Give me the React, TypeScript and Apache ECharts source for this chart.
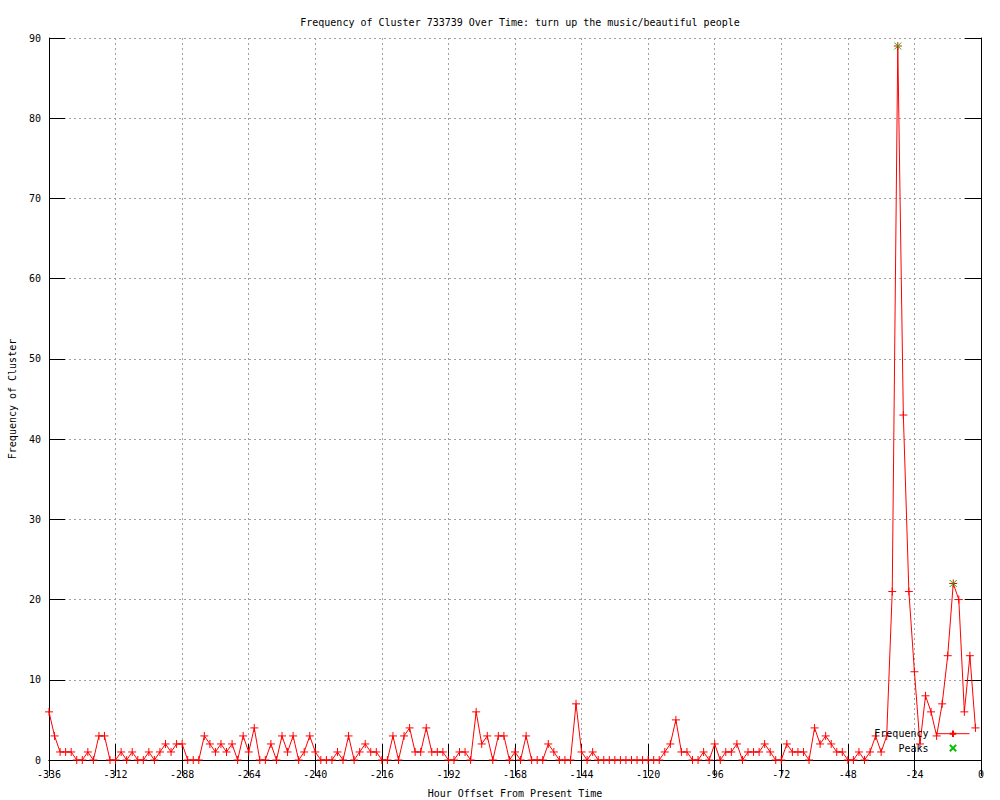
import React, { useEffect, useRef } from "react";
import * as echarts from "echarts";

const TITLE = "Frequency of Cluster 733739 Over Time: turn up the music/beautiful people";
const X_NAME = "Hour Offset From Present Time";
const Y_NAME = "Frequency of Cluster";

// hour offsets -336, -334, ..., -2
const START_HOUR = -336;
const STEP_HOURS = 2;

const frequency: number[] = [
  6, 3, 1, 1, 1, 0, 0, 1, 0, 3, 3, 0, 0, 1, 0, 1, 0, 0, 1, 0, 1, 2, 1, 2, 2, 0, 0, 0,
  3, 2, 1, 2, 1, 2, 0, 3, 1, 4, 0, 0, 2, 0, 3, 1, 3, 0, 1, 3, 1, 0, 0, 0, 1, 0,
  3, 0, 1, 2, 1, 1, 0, 0, 3, 0, 3, 4, 1, 1, 4, 1, 1, 1, 0, 0, 1, 1, 0, 6, 2, 3, 0,
  3, 3, 0, 1, 0, 3, 0, 0, 0, 2, 1, 0, 0, 0, 7, 1, 0, 1,
  0, 0, 0, 0, 0, 0, 0, 0, 0, 0, 0, 0,
  1, 2, 5, 1, 1, 0, 0, 1, 0, 2, 0, 1, 1, 2, 0, 1, 1, 1, 2, 1, 0, 0, 2, 1, 1, 1, 0,
  4, 2, 3, 2, 1, 1, 0, 0, 1, 0, 1, 3, 1, 3, 21, 89, 43, 21, 11, 2, 8, 6, 3, 7, 13,
  22, 20, 6, 13, 4,
];

const peakHours: number[] = [-30, -10];
const peakValues: number[] = [89, 22];

const FONT = "DejaVu Sans Mono";
const PLUS = "path://M0,5L10,5M5,0L5,10";
const CROSS = "path://M0,0L10,10M10,0L0,10";

export default function App() {
  const ref = useRef<HTMLDivElement>(null);

  useEffect(() => {
    if (!ref.current) return;
    const chart = echarts.init(ref.current, undefined, { renderer: "svg" });
    const freqData = frequency.map((v, i) => [START_HOUR + STEP_HOURS * i, v]);
    const peakData = peakHours.map((h, i) => [h, peakValues[i]]);

    const tickStyle = { show: true, inside: true, length: 16, lineStyle: { color: "#000", width: 1 } };
    const gridLine = { show: true, lineStyle: { color: "#a0a0a0", type: [2, 3] as any, width: 1 } };

    chart.setOption({
      animation: false,
      backgroundColor: "#fff",
      textStyle: { fontFamily: FONT },
      title: {
        text: TITLE,
        left: 515,
        top: 12,
        textAlign: "center",
        textStyle: { fontFamily: FONT, fontSize: 10, fontWeight: "normal", color: "#000" },
      },
      legend: {
        orient: "vertical",
        right: 30,
        top: 728,
        align: "right",
        itemWidth: 33,
        itemHeight: 8,
        itemGap: 3,
        padding: 0,
        lineStyle: { width: 1 },
        textStyle: { fontFamily: FONT, fontSize: 10, color: "#000", padding: [0, 3, 0, 0], lineHeight: 10 },
        data: ["Frequency", "Peaks"],
      },
      grid: { left: 49, right: 19, top: 38, bottom: 40, containLabel: false, outerBoundsMode: "none" },
      xAxis: [
        {
          type: "value",
          min: -336,
          max: 0,
          interval: 24,
          name: X_NAME,
          nameLocation: "middle",
          nameGap: 28,
          nameTextStyle: { fontFamily: FONT, fontSize: 10, color: "#000" },
          axisLine: { show: true, onZero: false, lineStyle: { color: "#000" } },
          axisTick: tickStyle,
          axisLabel: { fontFamily: FONT, fontSize: 10, color: "#000", margin: 9 },
          splitLine: gridLine,
        },
        {
          type: "value",
          position: "top",
          min: -336,
          max: 0,
          interval: 24,
          axisLine: { show: true, lineStyle: { color: "#000" } },
          axisTick: tickStyle,
          axisLabel: { show: false },
          splitLine: { show: false },
        },
      ],
      yAxis: [
        {
          type: "value",
          min: 0,
          max: 90,
          interval: 10,
          name: Y_NAME,
          nameLocation: "middle",
          nameGap: 32,
          nameTextStyle: { fontFamily: FONT, fontSize: 10, color: "#000" },
          axisLine: { show: true, onZero: false, lineStyle: { color: "#000" } },
          axisTick: tickStyle,
          axisLabel: { fontFamily: FONT, fontSize: 10, color: "#000", margin: 8 },
          splitLine: gridLine,
        },
        {
          type: "value",
          position: "right",
          min: 0,
          max: 90,
          interval: 10,
          axisLine: { show: true, lineStyle: { color: "#000" } },
          axisTick: tickStyle,
          axisLabel: { show: false },
          splitLine: { show: false },
        },
      ],
      series: [
        {
          name: "Frequency",
          type: "line",
          data: freqData,
          symbol: PLUS,
          symbolSize: 8,
          showAllSymbol: true,
          color: "#ff0000",
          lineStyle: { color: "#ff0000", width: 1 },
          itemStyle: { color: "none", borderColor: "#ff0000", borderWidth: 1 },
          clip: false,
          z: 2,
        },
        {
          name: "Peaks",
          type: "line",
          data: peakData,
          symbol: CROSS,
          symbolSize: 7,
          color: "#00c000",
          lineStyle: { width: 0, opacity: 0 },
          itemStyle: { color: "none", borderColor: "#00c000", borderWidth: 1 },
          clip: false,
          z: 3,
        },
      ],
    });
    return () => chart.dispose();
  }, []);

  return (
    <div
      ref={ref}
      style={{ position: "fixed", left: 0, top: 0, width: 1000, height: 800, background: "#fff" }}
    />
  );
}
